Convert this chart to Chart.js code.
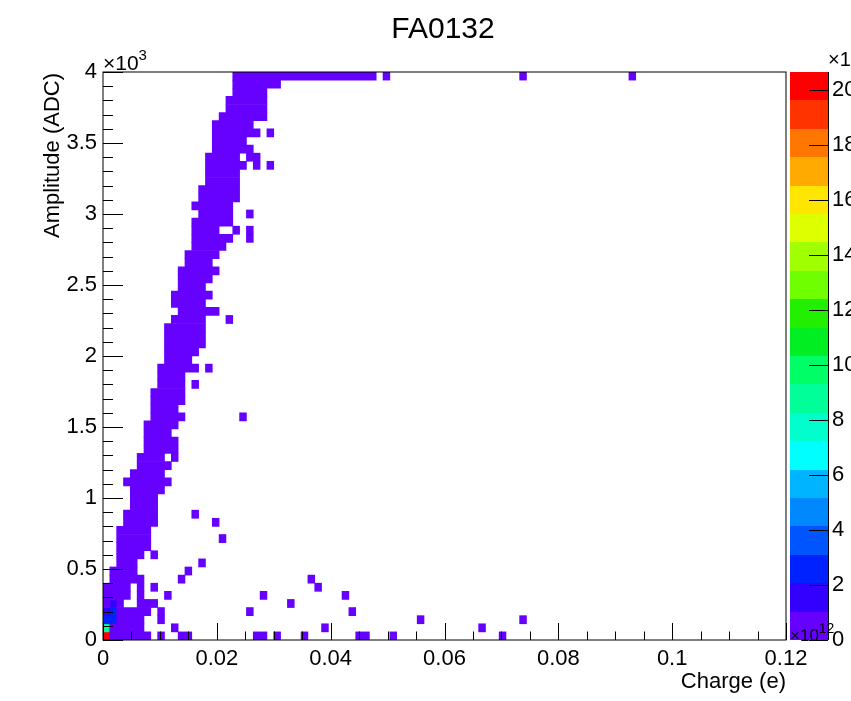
<!DOCTYPE html>
<html>
<head>
<meta charset="utf-8">
<title>FA0132</title>
<script src="https://cdn.jsdelivr.net/npm/chart.js@4/dist/chart.umd.min.js"></script>
<style>
  html, body { margin: 0; padding: 0; background: #ffffff; }
  canvas { display: block; }
</style>
</head>
<body>
<canvas id="hist" width="851" height="701"></canvas>
<script>
// Histogram binning: charge (x) and amplitude (y)
const xRange = [0, 0.12];
const xBinCount = 100;
const yRange = [0, 4000];
const yBinCount = 70;

// Colour scale (bin contents in units of 10^12) and number of contour levels
const zMax = 20.65;
const zLevelCount = 20;
const zTickStep = 2;

// Occupied bins whose content lies in the lowest contour level,
// stored as horizontal runs: [row, firstColumn, lastColumn]
const lowRuns = [
  [0,1,6],[0,8,8],[0,11,12],[0,22,23],[0,25,25],[0,29,29],[0,37,38],[0,42,42],[0,58,58],
  [1,1,5],[1,10,10],[1,32,32],[1,55,55],
  [2,2,5],[2,8,8],[2,46,46],[2,61,61],
  [3,2,6],[3,8,8],[3,21,21],[3,36,36],
  [4,0,0],[4,2,2],[4,5,7],[4,27,27],
  [5,0,3],[5,5,5],[5,9,9],[5,23,23],[5,35,35],
  [6,0,3],[6,5,5],[6,7,7],[6,31,31],
  [7,1,5],[7,11,11],[7,30,30],
  [8,1,4],[8,12,12],
  [9,2,4],[9,14,14],
  [10,2,5],[10,7,7],
  [11,2,6],
  [12,2,6],[12,17,17],
  [13,2,6],
  [14,3,7],[14,16,16],
  [15,3,7],[15,13,13],
  [16,4,7],
  [17,4,7],
  [18,4,8],
  [19,3,9],
  [20,4,8],
  [21,5,9],
  [22,5,8],[22,10,10],
  [23,6,10],
  [24,6,10],
  [25,6,9],
  [26,6,10],
  [27,7,11],[27,20,20],
  [28,7,10],
  [29,7,11],
  [30,7,11],
  [31,8,11],[31,13,13],
  [32,8,11],
  [33,8,13],[33,15,15],
  [34,9,12],
  [35,9,13],
  [36,9,14],
  [37,9,14],
  [38,9,14],
  [39,10,14],[39,18,18],
  [40,11,16],
  [41,10,14],
  [42,10,15],
  [43,11,14],
  [44,11,15],
  [45,11,16],
  [46,12,15],
  [47,12,16],
  [48,13,17],
  [49,13,18],[49,21,21],
  [50,13,16],[50,19,19],[50,21,21],
  [51,13,18],
  [52,14,18],[52,21,21],
  [53,13,18],
  [54,14,19],
  [55,14,19],
  [56,15,19],
  [57,15,19],
  [58,15,20],[58,22,22],[58,24,24],
  [59,15,19],[59,21,22],
  [60,16,21],
  [61,16,20],
  [62,16,22],[62,24,24],
  [63,16,21],
  [64,17,23],
  [65,18,23],
  [66,18,23],
  [67,19,23],
  [68,19,25],
  [69,19,39],[69,41,41],[69,61,61],[69,77,77]
];

// Bins with larger contents: [column, row, content ×10^12]
const hotCells = [
  [0, 0, 20.6],
  [0, 1, 8.8],
  [0, 2, 2.6],
  [0, 3, 1.6],
  [1, 2, 2.4],
  [1, 3, 2.3],
  [1, 4, 1.5]
];

// Rainbow palette, lowest level first
const paletteColors = [
  '#6600ff', '#3300ff', '#0022ff', '#0055ff', '#0088ff',
  '#00b4ff', '#00ffff', '#00ffcc', '#00ff99', '#00ff66',
  '#00ee22', '#22ee00', '#6fff00', '#a0ff00', '#ddff00',
  '#ffe600', '#ffaa00', '#ff7700', '#ff3300', '#ff0000'
];

const FONT = '"Liberation Sans", Arial, Helvetica, sans-serif';
const dx = (xRange[1] - xRange[0]) / xBinCount;
const dy = (yRange[1] - yRange[0]) / yBinCount;
const levelOf = v => Math.min(zLevelCount - 1, Math.floor(v / (zMax / zLevelCount)));

// One floating horizontal bar per run of bins, grouped by colour level
const levelData = paletteColors.map(() => []);
lowRuns.forEach(([row, c0, c1]) => {
  levelData[0].push({ y: yRange[0] + (row + 0.5) * dy, x: [xRange[0] + c0 * dx, xRange[0] + (c1 + 1) * dx] });
});
hotCells.forEach(([col, row, v]) => {
  levelData[levelOf(v)].push({ y: yRange[0] + (row + 0.5) * dy, x: [xRange[0] + col * dx, xRange[0] + (col + 1) * dx] });
});
const datasets = [];
levelData.forEach((data, k) => {
  if (data.length) datasets.push({ label: 'level ' + k, data, backgroundColor: paletteColors[k], borderWidth: 0 });
});

function drawExponent(ctx, x, baseY, base, exp, size, supSize) {
  ctx.font = size + 'px ' + FONT;
  ctx.textAlign = 'left';
  ctx.textBaseline = 'alphabetic';
  ctx.fillText(base, x, baseY);
  const w = ctx.measureText(base).width;
  ctx.font = supSize + 'px ' + FONT;
  ctx.fillText(exp, x + w, baseY - size * 0.5);
}

const isZMajor = v => Math.abs(v - Math.round(v / zTickStep) * zTickStep) < 1e-6;

const framePlugin = {
  id: 'histFrame',
  afterDatasetsDraw(chart) {
    const { ctx, chartArea: a, scales: { x, y, z } } = chart;
    ctx.save();

    // colour palette strip
    const barL = a.right + 4, barR = a.right + 42;
    for (let k = 0; k < zLevelCount; k++) {
      const p0 = Math.round(z.getPixelForValue(k * zMax / zLevelCount));
      const p1 = Math.round(z.getPixelForValue((k + 1) * zMax / zLevelCount));
      ctx.fillStyle = paletteColors[k];
      ctx.fillRect(barL, p1, barR - barL, p0 - p1);
    }
    ctx.strokeStyle = '#000000';
    ctx.lineWidth = 1;
    ctx.beginPath();
    ctx.moveTo(barR + 0.5, a.top);
    ctx.lineTo(barR + 0.5, a.bottom);
    z.ticks.forEach(t => {
      if (!isZMajor(t.value)) return;
      const py = Math.round(z.getPixelForValue(t.value)) + 0.5;
      ctx.moveTo(barR - 19, py);
      ctx.lineTo(barR, py);
    });
    ctx.stroke();

    // frame
    ctx.strokeRect(a.left, a.top, a.right - a.left, a.bottom - a.top);

    // inner tick marks
    ctx.beginPath();
    y.ticks.forEach(t => {
      const major = Math.round(t.value) % 500 === 0;
      const py = Math.round(y.getPixelForValue(t.value)) + 0.5;
      ctx.moveTo(a.left, py);
      ctx.lineTo(a.left + (major ? 20 : 10), py);
    });
    x.ticks.forEach(t => {
      const major = Math.round(t.value / 0.005) % 4 === 0;
      const px = Math.round(x.getPixelForValue(t.value)) + 0.5;
      ctx.moveTo(px, a.bottom);
      ctx.lineTo(px, a.bottom - (major ? 17 : 8.5));
    });
    ctx.stroke();

    // titles
    ctx.fillStyle = '#000000';
    ctx.font = '30px ' + FONT;
    ctx.textAlign = 'center';
    ctx.textBaseline = 'alphabetic';
    ctx.fillText('FA0132', 443, 38);

    ctx.font = '22px ' + FONT;
    ctx.textAlign = 'right';
    ctx.fillText('Charge (e)', a.right, 688);

    ctx.save();
    ctx.translate(59, a.top + 1);
    ctx.rotate(-Math.PI / 2);
    ctx.textAlign = 'right';
    ctx.fillText('Amplitude (ADC)', 0, 0);
    ctx.restore();

    // axis multipliers
    drawExponent(ctx, a.left, 70, '\u00d710', '3', 21, 15);
    drawExponent(ctx, barL, 641, '\u00d710', '12', 17, 14);
    drawExponent(ctx, barR, 66, '\u00d710', '12', 20, 15);

    ctx.restore();
  }
};

const tickFont = { family: FONT, size: 22 };

new Chart(document.getElementById('hist').getContext('2d'), {
  type: 'bar',
  data: { datasets },
  options: {
    indexAxis: 'y',
    responsive: false,
    animation: false,
    devicePixelRatio: 1,
    layout: { padding: { top: 72, left: 0, right: 0, bottom: 0 } },
    plugins: {
      legend: { display: false },
      title: { display: false },
      tooltip: { enabled: false }
    },
    datasets: {
      bar: { grouped: false, categoryPercentage: 1, barPercentage: 1, borderWidth: 0 }
    },
    scales: {
      x: {
        type: 'linear',
        position: 'bottom',
        min: xRange[0],
        max: xRange[1],
        offset: false,
        grid: { display: false, drawTicks: false, offset: false },
        border: { display: false },
        ticks: {
          stepSize: 0.005,
          autoSkip: false,
          maxRotation: 0,
          includeBounds: false,
          padding: 6,
          color: '#000000',
          font: tickFont,
          callback: v => {
            const k = Math.round(v / 0.005);
            return k % 4 === 0 ? String(parseFloat((k * 0.005).toFixed(3))) : '';
          }
        },
        afterFit: s => { s.height = 61; }
      },
      y: {
        type: 'linear',
        position: 'left',
        min: yRange[0],
        max: yRange[1],
        offset: false,
        grid: { display: false, drawTicks: false, offset: false },
        border: { display: false },
        ticks: {
          stepSize: 100,
          autoSkip: false,
          includeBounds: false,
          padding: 6,
          color: '#000000',
          font: tickFont,
          callback: v => (Math.round(v) % 500 === 0 ? String(Math.round(v) / 1000) : '')
        },
        afterFit: s => { s.width = 103; }
      },
      z: {
        type: 'linear',
        position: 'right',
        min: 0,
        max: zMax,
        offset: false,
        grid: { display: false, drawTicks: false, offset: false },
        border: { display: false },
        ticks: {
          stepSize: zTickStep,
          autoSkip: false,
          includeBounds: false,
          padding: 46,
          color: '#000000',
          font: tickFont,
          callback: v => (isZMajor(v) ? String(Math.round(v)) : '')
        },
        afterFit: s => { s.width = 65; }
      }
    }
  },
  plugins: [framePlugin]
});
</script>
</body>
</html>
